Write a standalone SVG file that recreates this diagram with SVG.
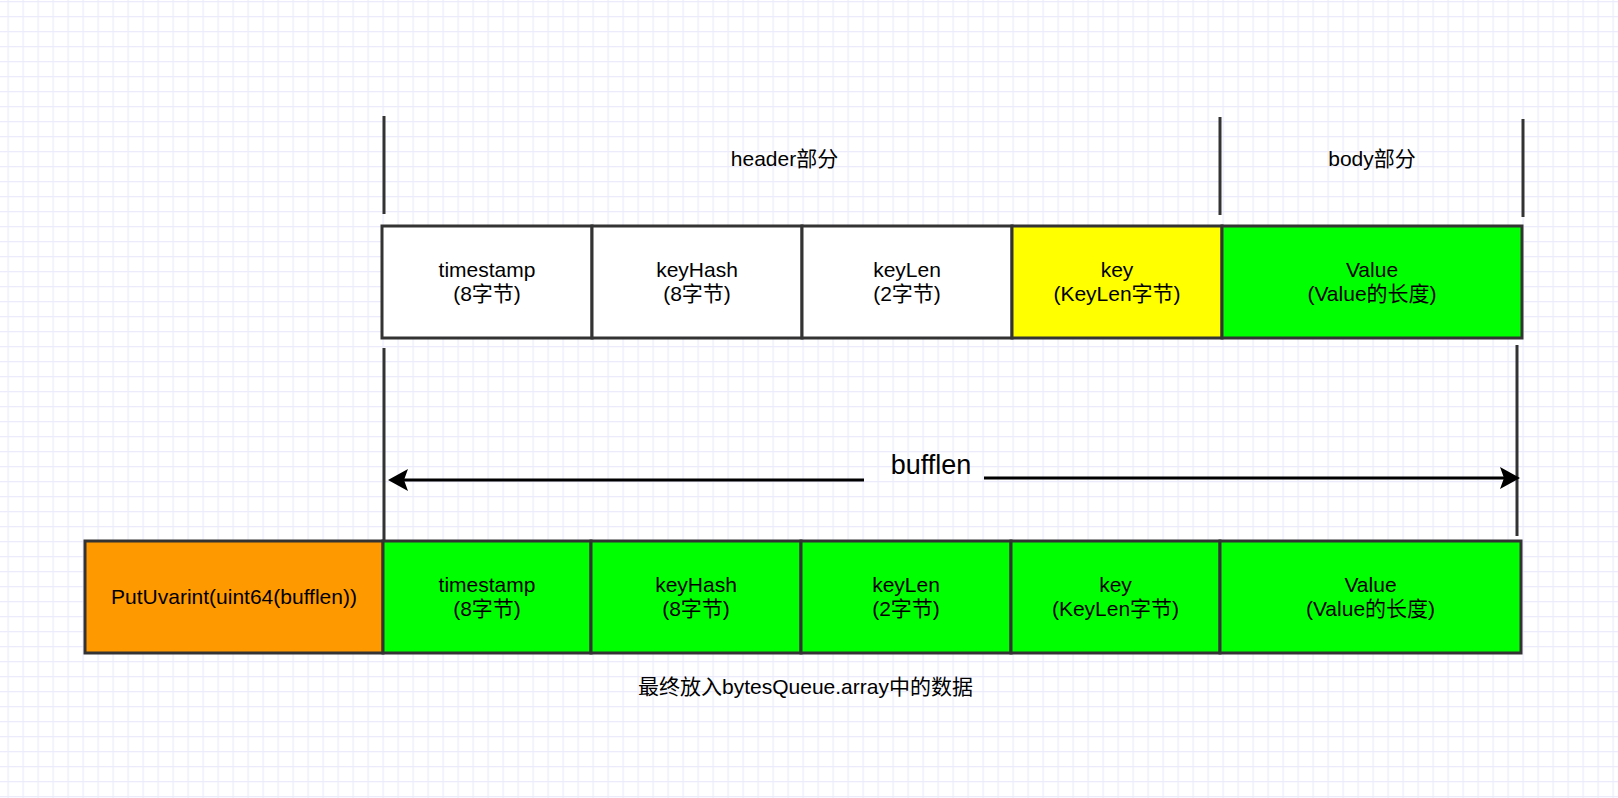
<svg xmlns="http://www.w3.org/2000/svg" width="1618" height="798" viewBox="0 0 1618 798">
<defs>
<pattern id="grid" x="7.5" y="1" width="15" height="15" patternUnits="userSpaceOnUse">
<path d="M15 0.5 L0.5 0.5 0.5 15" fill="none" stroke="#ebebfb" stroke-width="1.5"/>
</pattern>
<marker id="ah" viewBox="0 0 20 22" refX="4" refY="11" markerWidth="20" markerHeight="22" markerUnits="userSpaceOnUse" orient="auto">
<path d="M0 0 L20 11 L0 22 L4 11 Z" fill="#000"/>
</marker>
<style>
.cell{stroke:#333;stroke-width:3}
.w{fill:#fff}.g{fill:#00ff00}.y{fill:#ffff00}.o{fill:#ff9900}
.t{font-family:"Liberation Sans","Noto Sans CJK SC",sans-serif;font-size:21px;fill:#000;text-anchor:middle}
.big{font-size:27px}
.tick{stroke:#333;stroke-width:3;fill:none}
.arr{stroke:#000;stroke-width:3;fill:none}
</style>
</defs>
<rect width="1618" height="798" fill="#fff"/>
<rect width="1618" height="798" fill="url(#grid)"/>

<g id="connectors">
<line class="tick" x1="384" y1="116" x2="384" y2="214"/>
<line class="tick" x1="1220" y1="117" x2="1220" y2="215"/>
<line class="tick" x1="1523" y1="119" x2="1523" y2="217"/>
<line class="tick" x1="384" y1="348" x2="384" y2="540"/>
<line class="tick" x1="1517" y1="345" x2="1517" y2="536"/>
<line class="arr" x1="864" y1="480" x2="404" y2="480" marker-end="url(#ah)"/>
<line class="arr" x1="984" y1="478" x2="1504" y2="478" marker-end="url(#ah)"/>
</g>

<g id="label-header"><text class="t" x="784.5" y="166">header部分</text></g>
<g id="label-body"><text class="t" x="1372" y="166">body部分</text></g>
<g id="label-bufflen"><text class="t big" x="931" y="474">bufflen</text></g>

<g id="top-timestamp">
<rect class="cell w" x="382" y="226" width="210" height="112"/>
<text class="t" x="487" y="277">timestamp</text><text class="t" x="487" y="301">(8字节)</text>
</g>
<g id="top-keyhash">
<rect class="cell w" x="592" y="226" width="210" height="112"/>
<text class="t" x="697" y="277">keyHash</text><text class="t" x="697" y="301">(8字节)</text>
</g>
<g id="top-keylen">
<rect class="cell w" x="802" y="226" width="210" height="112"/>
<text class="t" x="907" y="277">keyLen</text><text class="t" x="907" y="301">(2字节)</text>
</g>
<g id="top-key">
<rect class="cell y" x="1012" y="226" width="210" height="112"/>
<text class="t" x="1117" y="277">key</text><text class="t" x="1117" y="301">(KeyLen字节)</text>
</g>
<g id="top-value">
<rect class="cell g" x="1222" y="226" width="300" height="112"/>
<text class="t" x="1372" y="277">Value</text><text class="t" x="1372" y="301">(Value的长度)</text>
</g>

<g id="bot-putuvarint">
<rect class="cell o" x="85" y="541" width="298" height="112"/>
<text class="t" x="234" y="604">PutUvarint(uint64(bufflen))</text>
</g>
<g id="bot-timestamp">
<rect class="cell g" x="383" y="541" width="208" height="112"/>
<text class="t" x="487" y="592">timestamp</text><text class="t" x="487" y="616">(8字节)</text>
</g>
<g id="bot-keyhash">
<rect class="cell g" x="591" y="541" width="210" height="112"/>
<text class="t" x="696" y="592">keyHash</text><text class="t" x="696" y="616">(8字节)</text>
</g>
<g id="bot-keylen">
<rect class="cell g" x="801" y="541" width="210" height="112"/>
<text class="t" x="906" y="592">keyLen</text><text class="t" x="906" y="616">(2字节)</text>
</g>
<g id="bot-key">
<rect class="cell g" x="1011" y="541" width="209" height="112"/>
<text class="t" x="1115.5" y="592">key</text><text class="t" x="1115.5" y="616">(KeyLen字节)</text>
</g>
<g id="bot-value">
<rect class="cell g" x="1220" y="541" width="301" height="112"/>
<text class="t" x="1370.5" y="592">Value</text><text class="t" x="1370.5" y="616">(Value的长度)</text>
</g>

<g id="caption"><text class="t" x="805.5" y="694">最终放入bytesQueue.array中的数据</text></g>
</svg>
